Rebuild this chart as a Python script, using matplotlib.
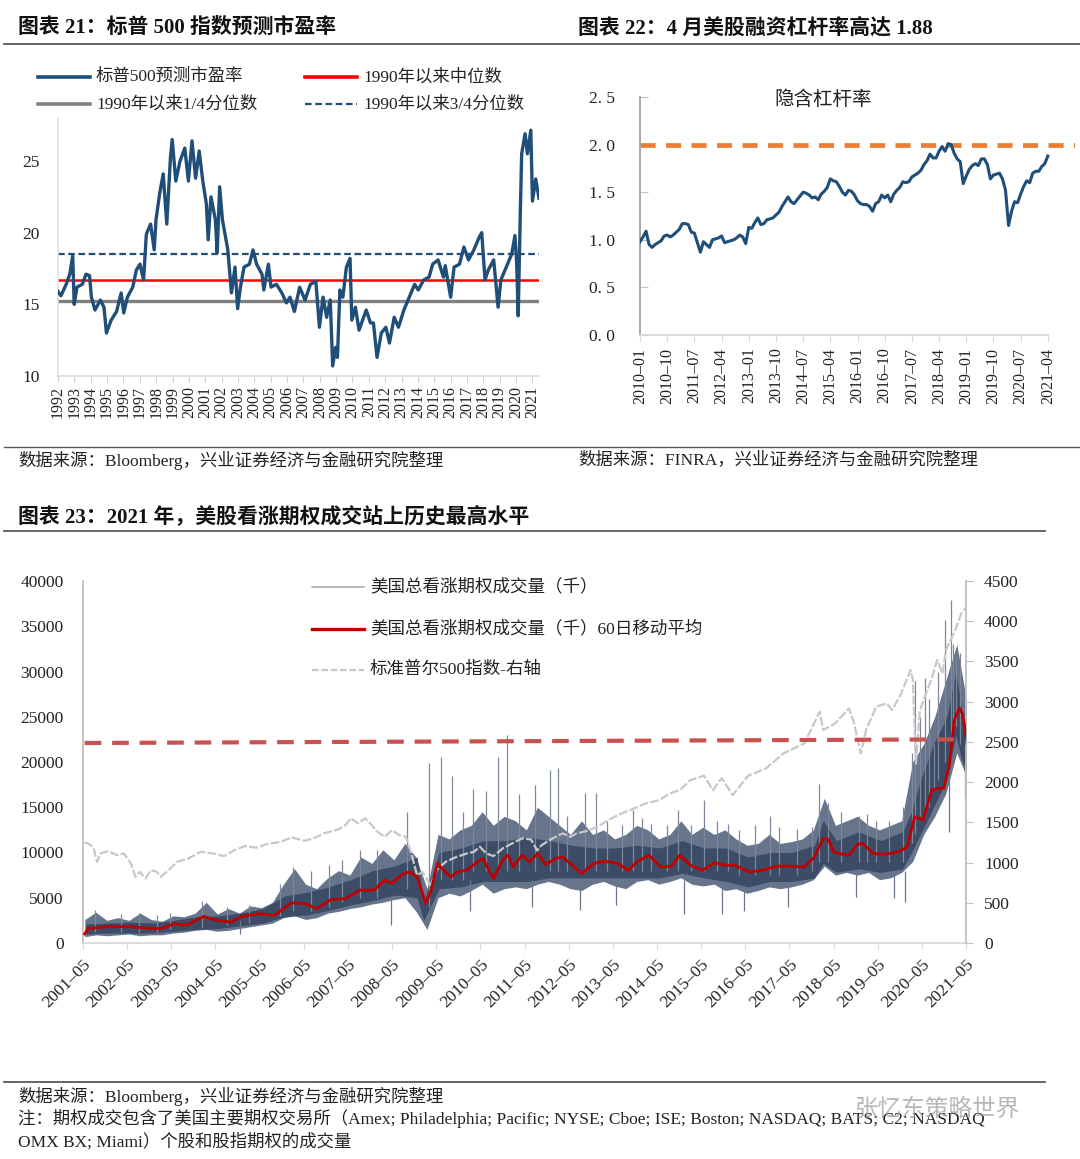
import matplotlib
matplotlib.use("Agg")
import matplotlib.pyplot as plt
from matplotlib.lines import Line2D
import numpy as np

# ---------------- data: chart 21 (forward P/E) ----------------
pe_year = [1992.00, 1992.18, 1992.50, 1992.72, 1992.90, 1992.99, 1993.16, 1993.49, 1993.71, 1993.93,
           1994.04, 1994.26, 1994.59, 1994.81, 1994.96, 1995.25, 1995.58, 1995.86, 1996.02, 1996.24,
           1996.57, 1996.79, 1997.01, 1997.23, 1997.40, 1997.66, 1997.88, 1997.99, 1998.21, 1998.43,
           1998.65, 1998.87, 1998.98, 1999.20, 1999.46, 1999.75, 1999.97, 2000.19, 2000.41, 2000.63,
           2000.85, 2001.07, 2001.18, 2001.35, 2001.62, 2001.73, 2001.88, 2002.05, 2002.38, 2002.60,
           2002.82, 2002.98, 2003.15, 2003.37, 2003.70, 2003.92, 2004.14, 2004.47, 2004.58, 2004.86,
           2005.02, 2005.35, 2005.68, 2005.96, 2006.18, 2006.45, 2006.77, 2007.10, 2007.43, 2007.76,
           2007.98, 2008.20, 2008.42, 2008.64, 2008.79, 2008.97, 2009.08, 2009.23, 2009.41, 2009.63,
           2009.85, 2009.96, 2010.18, 2010.40, 2010.62, 2010.84, 2011.10, 2011.28, 2011.50, 2011.76,
           2012.04, 2012.26, 2012.55, 2012.81, 2013.14, 2013.47, 2013.80, 2014.02, 2014.35, 2014.68,
           2014.90, 2015.23, 2015.56, 2015.67, 2016.00, 2016.21, 2016.54, 2016.81, 2017.09, 2017.42,
           2017.75, 2017.90, 2018.10, 2018.30, 2018.63, 2018.90, 2019.07, 2019.40, 2019.73, 2019.93,
           2020.03, 2020.13, 2020.25, 2020.34, 2020.55, 2020.69, 2020.90, 2021.00, 2021.20, 2021.40]
pe_value = [15.9, 15.6, 16.4, 17.1, 18.4, 15.0, 16.2, 16.4, 17.1, 17.0,
            15.5, 14.6, 15.3, 14.8, 13.0, 13.9, 14.5, 15.8, 14.4, 15.5,
            16.2, 17.4, 17.8, 16.7, 19.9, 20.6, 18.8, 20.9, 22.7, 24.1,
            20.6, 25.2, 26.5, 23.6, 25.0, 25.9, 23.6, 26.4, 23.8, 25.7,
            23.6, 22.0, 19.5, 22.5, 20.9, 18.6, 23.2, 20.9, 18.8, 15.8,
            17.6, 14.7, 16.2, 17.6, 17.8, 18.8, 17.8, 17.1, 16.0, 17.8,
            16.2, 16.4, 15.8, 15.1, 15.5, 14.5, 16.2, 15.3, 16.4, 16.6,
            13.4, 15.5, 14.1, 15.3, 10.7, 12.0, 11.3, 16.0, 15.5, 17.6,
            18.2, 13.9, 14.8, 13.2, 13.9, 14.6, 13.7, 13.7, 11.3, 13.0,
            13.4, 12.3, 14.1, 13.4, 14.6, 15.5, 16.4, 16.0, 16.7, 16.9,
            17.8, 18.1, 16.9, 17.7, 15.5, 17.6, 17.8, 19.0, 18.1, 18.8,
            19.7, 20.0, 16.7, 17.4, 18.1, 14.8, 16.7, 17.6, 18.5, 19.8,
            18.0, 14.2, 21.0, 25.5, 26.9, 25.5, 27.15, 22.2, 23.75, 22.4]
pe_median = 16.67
pe_q1 = 15.2
pe_q3 = 18.5
pe_years_ticks = list(range(1992, 2022))

# ---------------- data: chart 22 (implied leverage, monthly from 2010-01) ----------------
lev_value = [0.98, 1.03, 1.09, 0.95, 0.92, 0.95, 0.97, 0.99, 1.04, 1.05,
             1.03, 1.05, 1.08, 1.11, 1.17, 1.17, 1.16, 1.08, 1.07, 0.97,
             0.87, 0.98, 0.95, 0.92, 1.00, 1.01, 1.02, 1.04, 0.97, 0.98,
             0.99, 1.00, 1.02, 1.05, 1.03, 0.96, 1.13, 1.12, 1.18, 1.23,
             1.16, 1.17, 1.21, 1.22, 1.23, 1.26, 1.29, 1.35, 1.40, 1.45,
             1.40, 1.38, 1.42, 1.46, 1.50, 1.49, 1.47, 1.44, 1.45, 1.42,
             1.48, 1.51, 1.55, 1.64, 1.62, 1.61, 1.56, 1.50, 1.47, 1.52,
             1.51, 1.47, 1.41, 1.38, 1.37, 1.37, 1.35, 1.30, 1.38, 1.40,
             1.47, 1.44, 1.47, 1.40, 1.48, 1.52, 1.55, 1.61, 1.60, 1.61,
             1.66, 1.68, 1.70, 1.73, 1.79, 1.83, 1.90, 1.86, 1.86, 1.93,
             1.98, 1.93, 2.01, 2.00, 1.91, 1.85, 1.82, 1.59, 1.67, 1.74,
             1.78, 1.80, 1.78, 1.85, 1.85, 1.79, 1.64, 1.68, 1.69, 1.70,
             1.64, 1.52, 1.15, 1.30, 1.40, 1.39, 1.48, 1.56, 1.62, 1.60,
             1.70, 1.72, 1.72, 1.77, 1.80, 1.88]
lev_ref = 2.0
lev_tick_labels = ["2010–01", "2010–10", "2011–07", "2012–04", "2013–01", "2013–10", "2014–07", "2015–04",
                   "2016–01", "2016–10", "2017–07", "2018–04", "2019–01", "2019–10", "2020–07", "2021–04"]

# ---------------- data: chart 23 (call option volume, thousand contracts) ----------------
# dense core of the daily series
band_year = [2001.40, 2001.90, 2002.40, 2002.90, 2003.40, 2003.90, 2004.40, 2004.90, 2005.40, 2005.90,
             2006.40, 2006.90, 2007.40, 2007.90, 2008.40, 2008.90, 2009.05, 2009.40, 2009.90, 2010.40,
             2010.90, 2011.40, 2011.90, 2012.40, 2012.90, 2013.40, 2013.90, 2014.40, 2014.90, 2015.40,
             2015.90, 2016.40, 2016.90, 2017.40, 2017.90, 2018.10, 2018.40, 2018.90, 2019.40, 2019.90,
             2020.10, 2020.30, 2020.60, 2020.90, 2021.10, 2021.25, 2021.37]
band_low = [1000, 1100, 1100, 1100, 1300, 1500, 1600, 1900, 2200, 2900,
            3100, 3600, 4200, 4700, 5300, 5000, 2500, 6000, 6200, 6800,
            6800, 6800, 7200, 7200, 7200, 7200, 7200, 7200, 7700, 7200,
            6800, 6200, 6800, 6800, 7200, 8800, 7800, 8200, 7800, 8200,
            10000, 12000, 15000, 18000, 23000, 20000, 19000]
band_high = [2100, 2200, 2300, 2200, 2500, 2900, 3000, 3300, 3800, 5200,
             5600, 6200, 7000, 8000, 8500, 9500, 4500, 10000, 10500, 11300,
             11300, 11700, 11300, 10800, 10500, 10500, 10800, 10500, 11300, 10500,
             10500, 9500, 10000, 10000, 10800, 13500, 11300, 12300, 11300, 12300,
             14500, 18000, 22000, 25000, 30000, 25500, 23000]
# quarterly outer range (lows, highs) per year, 2001-05 .. 2021-05
q_low = {2001: [700, 900, 800],
         2002: [900, 1000, 800, 900], 2003: [900, 1100, 1200, 1400], 2004: [1500, 1300, 1400, 1600],
         2005: [1800, 2000, 2200, 2800], 2006: [3000, 2600, 2800, 3300], 2007: [3500, 3800, 4000, 4300],
         2008: [4500, 4800, 5000, 3500], 2009: [1500, 5000, 5500, 5200], 2010: [5800, 6500, 5500, 6000],
         2011: [6200, 6000, 6500, 6800], 2012: [6500, 6000, 5800, 6500], 2013: [6800, 6300, 6000, 6800],
         2014: [7000, 6500, 6800, 7200], 2015: [6500, 6300, 6500, 5800], 2016: [6000, 5500, 5800, 6200],
         2017: [6000, 6200, 6500, 7000], 2018: [8500, 7500, 7800, 7500], 2019: [7800, 7000, 7200, 7800],
         2020: [9000, 12000, 14000, 16500], 2021: [21000, 18000]}
q_high = {2001: [2600, 3400, 2500],
          2002: [2800, 2500, 3300, 2600], 2003: [2400, 3000, 2900, 3300], 2004: [4500, 3200, 3800, 3300],
          2005: [4100, 3900, 4500, 6500], 2006: [8200, 6500, 6000, 7200], 2007: [8000, 7500, 9500, 8800],
          2008: [10300, 9200, 11000, 9500], 2009: [6000, 12000, 11500, 12500], 2010: [13000, 14500, 13000, 14000],
          2011: [13500, 12500, 15000, 14000], 2012: [13000, 12000, 13500, 12000], 2013: [12500, 11500, 12000, 13000],
          2014: [12500, 11500, 12000, 13500], 2015: [12000, 12800, 12000, 12500], 2016: [11500, 10800, 11000, 12000],
          2017: [11000, 11200, 11500, 12500], 2018: [16000, 13000, 13500, 14000], 2019: [13000, 12500, 13000, 13500],
          2020: [20000, 22000, 25000, 29000], 2021: [33000, 26000]}
spike_year = [2001.6, 2002.2, 2002.6, 2003.0, 2003.3, 2004.02, 2004.6, 2005.1, 2005.8, 2006.1,
              2006.5, 2006.9, 2007.2, 2007.6, 2008.0, 2008.68, 2009.17, 2009.44, 2009.68, 2009.95,
              2010.17, 2010.45, 2010.73, 2010.93, 2011.2, 2011.56, 2011.9, 2012.1, 2012.3, 2012.7,
              2012.95, 2013.2, 2013.55, 2013.8, 2014.0, 2014.2, 2014.55, 2014.8, 2015.1, 2015.4,
              2015.7, 2015.95, 2016.2, 2016.55, 2016.9, 2017.1, 2017.5, 2017.85, 2018.0, 2018.2,
              2018.5, 2018.9, 2019.1, 2019.3, 2019.6, 2019.9, 2020.1, 2020.17, 2020.3, 2020.4,
              2020.5, 2020.6, 2020.7, 2020.85, 2021.0, 2021.05, 2021.1, 2021.2]
spike_top = [3600, 3200, 3300, 3100, 3300, 4600, 4000, 4200, 6500, 8400,
             8000, 8600, 9200, 10300, 10300, 14500, 19900, 20600, 18500, 14500,
             17000, 16800, 20500, 23000, 16500, 17500, 19100, 19300, 14000, 16600,
             16600, 13500, 13000, 14700, 13800, 13200, 13000, 14700, 13000, 15800,
             13500, 13200, 12500, 13000, 14000, 12800, 12600, 12800, 17600, 15500,
             14500, 14000, 14200, 13500, 13500, 15000, 21000, 29000, 25000, 29300,
             27000, 22000, 30000, 35700, 37900, 33000, 31700, 32000]
spike_bottom = [1200, 1200, 1200, 1200, 1500, 1800, 2000, 2200, 3000, 3500,
                3500, 4000, 4500, 5000, 5000, 6000, 4000, 7000, 7000, 7000,
                8000, 8000, 8000, 8000, 8000, 8000, 8000, 8000, 8000, 8000,
                8000, 8000, 8000, 8000, 8000, 8000, 8000, 8000, 8000, 8000,
                8000, 8000, 7500, 7500, 7500, 7500, 7500, 8000, 9000, 9000,
                9000, 9000, 9000, 9000, 9000, 9000, 11000, 12000, 14000, 14000,
                15000, 17000, 18000, 20000, 22000, 24000, 24000, 22000]
dip_year = [2004.9, 2008.3, 2010.1, 2011.5, 2012.6, 2013.4, 2014.95, 2015.8, 2016.3, 2017.3,
            2018.85, 2019.7, 2019.95, 2020.95, 2021.3]
dip_low = [1000, 2000, 3500, 4000, 3700, 4200, 3200, 3200, 3500, 4000,
           5100, 5000, 4500, 12300, 16000]
dip_high = [2500, 5000, 7000, 7000, 7000, 7000, 7000, 6500, 6000, 6500,
            8000, 8000, 8000, 18000, 19000]

ma_year = [2001.37, 2001.45, 2001.85, 2002.40, 2002.75, 2003.10, 2003.40, 2003.70, 2004.07, 2004.35,
           2004.70, 2004.93, 2005.33, 2005.66, 2006.06, 2006.35, 2006.63, 2006.95, 2007.28, 2007.60,
           2007.92, 2008.17, 2008.33, 2008.57, 2008.73, 2008.90, 2009.10, 2009.22, 2009.36, 2009.50,
           2009.66, 2009.82, 2010.03, 2010.27, 2010.39, 2010.63, 2010.84, 2010.96, 2011.08, 2011.28,
           2011.44, 2011.64, 2011.81, 2012.05, 2012.20, 2012.37, 2012.63, 2012.90, 2013.14, 2013.45,
           2013.68, 2013.88, 2014.15, 2014.42, 2014.66, 2014.85, 2015.09, 2015.36, 2015.64, 2015.87,
           2016.10, 2016.42, 2016.73, 2017.04, 2017.35, 2017.67, 2017.90, 2018.10, 2018.22, 2018.33,
           2018.53, 2018.68, 2018.88, 2019.00, 2019.23, 2019.39, 2019.62, 2019.85, 2020.00, 2020.17,
           2020.29, 2020.36, 2020.56, 2020.72, 2020.83, 2020.95, 2021.07, 2021.18, 2021.25, 2021.32,
           2021.37]
ma_value = [1000, 1600, 1800, 1800, 1650, 1600, 2100, 2000, 2950, 2500,
            2300, 2950, 3250, 3050, 4430, 4360, 3800, 4800, 4900, 5840,
            5840, 6950, 6580, 7600, 7870, 7300, 4360, 5840, 8800, 8050,
            7300, 7870, 8050, 8980, 9350, 7130, 9160, 9720, 8420, 9720,
            8980, 9900, 8680, 9350, 9520, 8780, 7680, 8780, 9040, 8780,
            8040, 8970, 9700, 8410, 8490, 9700, 8600, 8040, 8860, 8600,
            8600, 7860, 8040, 8490, 8490, 8410, 9520, 11550, 11440, 10070,
            9820, 9700, 10920, 11000, 9890, 9820, 9890, 10180, 10630, 13950,
            13760, 13580, 16900, 17090, 17090, 19480, 24650, 25940, 25390, 23540,
            21510]

spx_year = [2001.37, 2001.45, 2001.57, 2001.65, 2001.73, 2001.90, 2002.10, 2002.26, 2002.42, 2002.52,
            2002.62, 2002.75, 2002.87, 2003.00, 2003.10, 2003.31, 2003.47, 2003.72, 2004.00, 2004.28,
            2004.53, 2004.77, 2005.00, 2005.25, 2005.50, 2005.82, 2006.06, 2006.35, 2006.55, 2006.79,
            2007.12, 2007.28, 2007.40, 2007.56, 2007.72, 2007.84, 2008.00, 2008.17, 2008.33, 2008.49,
            2008.65, 2008.77, 2008.90, 2009.02, 2009.14, 2009.20, 2009.34, 2009.55, 2009.80, 2010.03,
            2010.19, 2010.32, 2010.47, 2010.63, 2010.84, 2011.08, 2011.28, 2011.48, 2011.62, 2011.72,
            2011.96, 2012.20, 2012.37, 2012.51, 2012.75, 2012.98, 2013.30, 2013.53, 2013.76, 2014.07,
            2014.39, 2014.62, 2014.85, 2015.09, 2015.40, 2015.60, 2015.80, 2016.05, 2016.40, 2016.80,
            2017.20, 2017.67, 2018.02, 2018.10, 2018.37, 2018.68, 2018.80, 2018.95, 2019.07, 2019.30,
            2019.54, 2019.66, 2019.85, 2020.08, 2020.13, 2020.20, 2020.29, 2020.40, 2020.56, 2020.68,
            2020.80, 2020.88, 2021.04, 2021.12, 2021.23, 2021.35]
spx_value = [1250, 1238, 1190, 1010, 1113, 1142, 1093, 1113, 989, 823,
             885, 802, 906, 885, 823, 926, 1010, 1051, 1134, 1113,
             1080, 1155, 1205, 1184, 1230, 1259, 1313, 1271, 1300, 1363,
             1413, 1467, 1550, 1487, 1550, 1487, 1383, 1321, 1404, 1342,
             1321, 1113, 843, 885, 781, 700, 906, 1010, 1072, 1113,
             1134, 1197, 1113, 1080, 1176, 1246, 1300, 1288, 1150, 1216,
             1299, 1363, 1320, 1361, 1394, 1444, 1548, 1610, 1660, 1734,
             1776, 1859, 1900, 2025, 2080, 1900, 2050, 1838, 2080, 2170,
             2357, 2481, 2876, 2647, 2730, 2917, 2730, 2357, 2647, 2938,
             2979, 2896, 3083, 3394, 3270, 2232, 2896, 3062, 3290, 3519,
             3353, 3643, 3830, 3934, 4100, 4183]
hist_high_year = [2001.37, 2021.15]
hist_high_value = [22100, 22500]
vol_tick_labels = [f"{y}–05" for y in range(2001, 2022)]

# ---------------- layout helpers ----------------
W, H = 1080, 1159
MIX = ["Liberation Serif", "Noto Sans CJK SC"]
plt.rcParams["font.family"] = MIX
plt.rcParams["axes.unicode_minus"] = False

NAVY = "#1f4e79"
GRID = "#bfbfbf"
TXT = "#222222"


def fx(px):
    return px / W


def fy(py):
    return 1 - py / H


def axes_px(fig, left, top, right, bottom):
    return fig.add_axes([fx(left), fy(bottom), (right - left) / W, (bottom - top) / H])


def rule(fig, y, x0, x1, color="#595959", lw=1.3):
    fig.add_artist(Line2D([fx(x0), fx(x1)], [fy(y), fy(y)], color=color, lw=lw,
                          transform=fig.transFigure))


def legend_item(fig, x, y, label, size=12.5, **line_kw):
    fig.add_artist(Line2D([fx(x), fx(x + 52)], [fy(y), fy(y)], transform=fig.transFigure, **line_kw))
    fig.text(fx(x + 58), fy(y), label, fontsize=size, va="center", ha="left", color=TXT)


fig = plt.figure(figsize=(W / 100, H / 100), dpi=100)

# ---------------- headers / rules ----------------
fig.text(fx(18), fy(28), "图表 21：标普 500 指数预测市盈率", fontsize=15, fontweight="bold", va="center", color="#111111")
fig.text(fx(578), fy(28), "图表 22：4 月美股融资杠杆率高达 1.88", fontsize=15, fontweight="bold", va="center", color="#111111")
rule(fig, 44, 4, 1080)
rule(fig, 447, 4, 1080, lw=1.0)
fig.text(fx(18), fy(460), "数据来源：Bloomberg，兴业证券经济与金融研究院整理", fontsize=12.5, va="center", color=TXT)
fig.text(fx(578), fy(460), "数据来源：FINRA，兴业证券经济与金融研究院整理", fontsize=12.5, va="center", color=TXT)
fig.text(fx(18), fy(517), "图表 23：2021 年，美股看涨期权成交站上历史最高水平", fontsize=15, fontweight="bold", va="center", color="#111111")
rule(fig, 531, 4, 1045)
rule(fig, 1082, 4, 1045)
fig.text(fx(18), fy(1096), "数据来源：Bloomberg，兴业证券经济与金融研究院整理", fontsize=12.5, va="center", color=TXT)
fig.text(fx(18), fy(1119), "注：期权成交包含了美国主要期权交易所（Amex; Philadelphia; Pacific; NYSE; Cboe; ISE; Boston; NASDAQ; BATS; C2; NASDAQ",
         fontsize=12.5, va="center", color=TXT)
fig.text(fx(18), fy(1142), "OMX BX; Miami）个股和股指期权的成交量", fontsize=12.5, va="center", color=TXT)
# account watermark that sits over the note line in the source image
fig.text(fx(855), fy(1109), "张忆东策略世界", fontsize=17, va="center", color="#9a9a9a", alpha=0.7,
         family="Noto Sans CJK SC")

# ---------------- chart 21 ----------------
ax1 = axes_px(fig, 58, 118, 539, 376)
ax1.plot(pe_year, pe_value, color=NAVY, lw=2.4, zorder=3)
ax1.axhline(pe_q3, color=NAVY, lw=1.6, ls=(0, (3, 1.6)), zorder=2)
ax1.axhline(pe_median, color="#ff0000", lw=1.8, zorder=2)
ax1.axhline(pe_q1, color="#808080", lw=2.4, zorder=2)
ax1.set_xlim(1992, 2021.4)
ax1.set_ylim(10, 28)
ax1.set_yticks([10, 15, 20, 25])
ax1.set_xticks(pe_years_ticks)
ax1.set_xticklabels([str(y) for y in pe_years_ticks], rotation=90, fontsize=11.5)
ax1.tick_params(axis="y", length=0, pad=13, labelsize=12.5, labelcolor=TXT)
ax1.tick_params(axis="x", length=4, color="#d0d0d0", pad=3, labelcolor=TXT)
for s in ["top", "right"]:
    ax1.spines[s].set_visible(False)
ax1.spines["left"].set_color("#e0e0e0")
ax1.spines["bottom"].set_color("#d9d9d9")
ax1.spines["left"].set_linewidth(1.2)
ax1.spines["bottom"].set_linewidth(1.2)

legend_item(fig, 38, 77, "标普500预测市盈率", color=NAVY, lw=2.6)
legend_item(fig, 305, 77, "1990年以来中位数", color="#ff0000", lw=2.6)
legend_item(fig, 38, 104, "1990年以来1/4分位数", color="#808080", lw=2.6)
legend_item(fig, 305, 104, "1990年以来3/4分位数", color=NAVY, lw=1.6, ls=(0, (3, 1.6)))

# ---------------- chart 22 ----------------
ax2 = axes_px(fig, 640, 97, 1075, 335)
months = np.arange(len(lev_value))
ax2.plot(months, lev_value, color=NAVY, lw=2.2, zorder=3)
ax2.axhline(lev_ref, color="#ed7d31", lw=3.4, ls=(0, (3.2, 2.2)), zorder=2)
ax2.set_xlim(0, 144)
ax2.set_ylim(0, 2.5)
ax2.set_yticks([0, 0.5, 1.0, 1.5, 2.0, 2.5])
ax2.set_yticklabels(["0. 0", "0. 5", "1. 0", "1. 5", "2. 0", "2. 5"])
ax2.set_xticks(np.arange(0, 136, 9))
ax2.set_xticklabels(lev_tick_labels, rotation=90, fontsize=11.5)
ax2.tick_params(axis="y", direction="in", length=6, color=GRID, pad=18, labelsize=12.5, labelcolor=TXT)
ax2.tick_params(axis="x", direction="out", length=5, color="#d9d9d9", pad=4, labelcolor=TXT)
for s in ["top", "right"]:
    ax2.spines[s].set_visible(False)
ax2.spines["left"].set_color("#a6a6a6")
ax2.spines["bottom"].set_color("#d9d9d9")
ax2.spines["left"].set_linewidth(1.4)
ax2.spines["bottom"].set_linewidth(1.4)
ax2.spines["bottom"].set_bounds(0, 135)
ax2.text(0.42, 0.99, "隐含杠杆率", transform=ax2.transAxes, ha="center", va="center", fontsize=14, color=TXT)

# ---------------- chart 23 ----------------
x0, x1 = 2001 + 4 / 12, 2021 + 4 / 12
ax3 = axes_px(fig, 83, 581, 966, 943)
q_year, q_lo, q_hi = [], [], []
for yr in q_low:
    start = 0.375 if yr == 2001 else 0.125
    for i, (lo, hi) in enumerate(zip(q_low[yr], q_high[yr])):
        q_year.append(yr + start + 0.25 * i)
        q_lo.append(lo)
        q_hi.append(hi)
ax3.fill_between(q_year, q_lo, q_hi, color="#66748c", lw=0, zorder=1)
ax3.fill_between(band_year, band_low, band_high, color="#3c4c66", lw=0, zorder=2)
ax3.vlines(spike_year, spike_bottom, spike_top, color="#7d889a", lw=0.9, zorder=2)
ax3.vlines(dip_year, dip_low, dip_high, color="#6b778b", lw=0.9, zorder=2)
ax3.set_xlim(x0, x1)
ax3.set_ylim(0, 40000)
ax3.set_yticks(range(0, 40001, 5000))
ax3.set_xticks([y + 4 / 12 for y in range(2001, 2022)])
ax3.set_xticklabels(vol_tick_labels, rotation=45, ha="right", va="top", rotation_mode="anchor", fontsize=12.5)
ax3.tick_params(axis="y", length=0, pad=14, labelsize=12.5, labelcolor=TXT)
ax3.tick_params(axis="x", length=4, color="#d9d9d9", pad=6, labelcolor=TXT)
ax3.spines["top"].set_visible(False)
ax3.spines["right"].set_visible(False)
ax3.spines["left"].set_color("#bfbfbf")
ax3.spines["bottom"].set_color("#d9d9d9")
ax3.spines["left"].set_linewidth(1.3)
ax3.spines["bottom"].set_linewidth(1.3)

ax4 = ax3.twinx()
ax4.plot(spx_year, spx_value, color="#c8c8c8", lw=1.6, ls=(0, (4, 1)), zorder=3)
ax4.set_ylim(0, 4500)
ax4.set_yticks(range(0, 4501, 500))
ax4.tick_params(axis="y", length=5, color="#bfbfbf", pad=8, labelsize=12.5, labelcolor=TXT)
ax4.spines["top"].set_visible(False)
ax4.spines["left"].set_visible(False)
ax4.spines["bottom"].set_visible(False)
ax4.spines["right"].set_color("#bfbfbf")
ax4.spines["right"].set_linewidth(1.3)

ax5 = fig.add_axes(ax3.get_position(), sharex=ax3, sharey=ax3, frameon=False)
ax5.plot(ma_year, ma_value, color="#c00000", lw=2.0, zorder=4)
ax5.plot(hist_high_year, hist_high_value, color="#c9514f", lw=3.0, ls=(0, (4, 2.6)), zorder=5)
ax5.axis("off")

legend_item(fig, 312, 587, "美国总看涨期权成交量（千）", size=12.6, color="#a6a6a6", lw=1.1)
legend_item(fig, 312, 629, "美国总看涨期权成交量（千）60日移动平均", size=12.6, color="#c00000", lw=2.4)
legend_item(fig, 312, 670, "标准普尔500指数-右轴", size=12.6, color="#c8c8c8", lw=1.6, ls=(0, (3, 1.2)))

fig.savefig("out.png", dpi=100)
